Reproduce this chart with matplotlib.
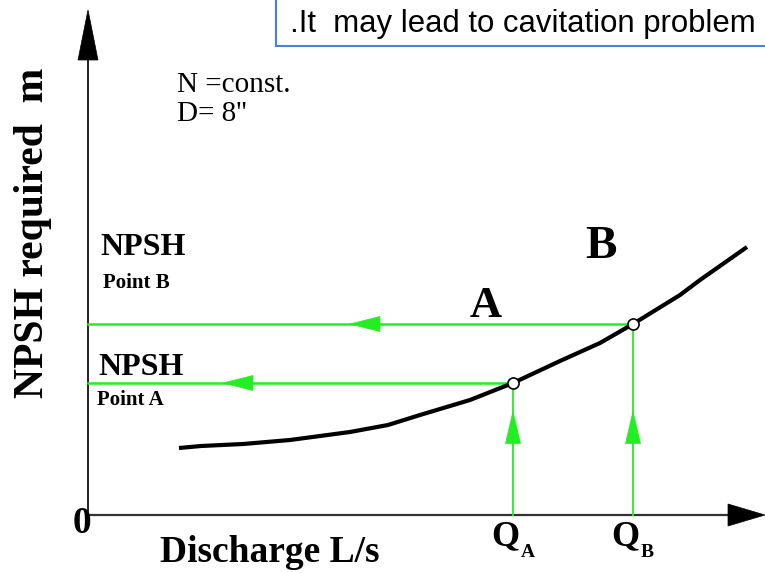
import matplotlib
matplotlib.use("Agg")
import matplotlib.pyplot as plt
from matplotlib.patches import Polygon, Rectangle

# NPSH-required curve of the pump (discharge, NPSH required)
discharge = [9.1, 11.3, 15.5, 20.2, 26.2, 30.0, 33.2, 38.2, 42.5, 47.2, 51.2, 54.5, 59.2, 61.2, 65.9]
npsh_req = [6.7, 6.9, 7.1, 7.5, 8.3, 9.0, 10.0, 11.5, 13.2, 15.4, 17.2, 19.1, 22.0, 23.5, 26.8]

# operating points on the curve
point_names = ["A", "B"]
point_q = [42.5, 54.5]
point_npsh = [13.2, 19.1]

W, H = 765, 573
X0, Y0, S = 88, 515, 10          # axis origin in pixels, pixels per unit

fig = plt.figure(figsize=(W / 100, H / 100), dpi=100)
ax = fig.add_axes([0, 0, 1, 1])
ax.set_xlim(-X0 / S, (W - X0) / S)
ax.set_ylim(-(H - Y0) / S, Y0 / S)
ax.axis("off")

SERIF = "Liberation Serif"
SANS = "Liberation Sans"
GREEN = "#22ee22"


def ftext(px, py, s, **kw):
    fig.text(px / W, 1 - py / H, s, **kw)


def head(tip_x, tip_y, dx, dy, length, half, color):
    # triangular arrow head pointing along (dx, dy)
    bx, by = tip_x - dx * length, tip_y - dy * length
    px_, py_ = -dy * half, dx * half
    ax.add_patch(Polygon([(tip_x, tip_y), (bx + px_, by + py_), (bx - px_, by - py_)],
                         closed=True, facecolor=color, edgecolor=color, lw=0.5, zorder=4))


# axes with arrow heads
y_top = (Y0 - 10) / S
x_end = (W - X0) / S
ax.plot([0, 0], [0, y_top - 4.8], color="#222222", lw=1.4, zorder=2)
ax.plot([0, x_end - 3.6], [0, 0], color="#333333", lw=1.6, zorder=2)
head(0, y_top, 0, 1, 5.0, 1.0, "black")
head(x_end, 0, 1, 0, 3.7, 1.1, "black")

# green guide lines from the operating points
arrow_x = {"A": 13.5, "B": 26.2}
for name, q, h in zip(point_names, point_q, point_npsh):
    ax.plot([0, q], [h, h], color=GREEN, lw=1.8, zorder=3)
    ax.plot([q, q], [0, h], color=GREEN, lw=1.3, zorder=3)
    head(arrow_x[name], h, -1, 0, 3.0, 0.75, GREEN)
    head(q, 10.35, 0, 1, 3.2, 0.75, GREEN)

# NPSH required curve and the two points
ax.plot(discharge, npsh_req, color="black", lw=3.0, solid_capstyle="butt",
        solid_joinstyle="round", zorder=5)
ax.plot(point_q, point_npsh, "o", ms=8, mfc="white", mec="black", mew=1.2, zorder=6)

# labels
ftext(33, 233, "NPSH required  m", rotation=90, ha="center", va="center",
      family=SERIF, weight="bold", fontsize=30)
ftext(160, 562, "Discharge L/s", ha="left", va="baseline",
      family=SERIF, weight="bold", fontsize=27)
ftext(82, 533, "0", ha="center", va="baseline", family=SERIF, weight="bold", fontsize=27)

ftext(177, 92, "N =const.", ha="left", va="baseline", family=SERIF, fontsize=21)
ftext(177, 121, "D= 8''", ha="left", va="baseline", family=SERIF, fontsize=21)

ftext(100, 255, "NPSH", ha="left", va="baseline", family=SERIF, weight="bold", fontsize=23)
ftext(103, 288, "Point B", ha="left", va="baseline", family=SERIF, weight="bold", fontsize=15)
ftext(98, 375, "NPSH", ha="left", va="baseline", family=SERIF, weight="bold", fontsize=23)
ftext(97, 405, "Point A", ha="left", va="baseline", family=SERIF, weight="bold", fontsize=15)

ftext(470, 317, "A", ha="left", va="baseline", family=SERIF, weight="bold", fontsize=32)
ftext(585, 258, "B", ha="left", va="baseline", family=SERIF, weight="bold", fontsize=34)

for name, q in zip(point_names, point_q):
    qx = X0 + q * S
    ftext(qx - 22, 545, "Q", ha="left", va="baseline", family=SERIF, weight="bold", fontsize=26)
    ftext(qx + 8, 557, name, ha="left", va="baseline", family=SERIF, weight="bold", fontsize=14)

# note box at the top
fig.patches.append(Rectangle((276 / W, 1 - 46 / H), 1.0, 0.2, transform=fig.transFigure,
                             facecolor="white", edgecolor="#4a7fe8", lw=1.5, zorder=10))
ftext(290, 32, ".It  may lead to cavitation problem", ha="left", va="baseline",
      family=SANS, fontsize=22.4, zorder=11)

fig.savefig("out.png", dpi=100, facecolor="white")
